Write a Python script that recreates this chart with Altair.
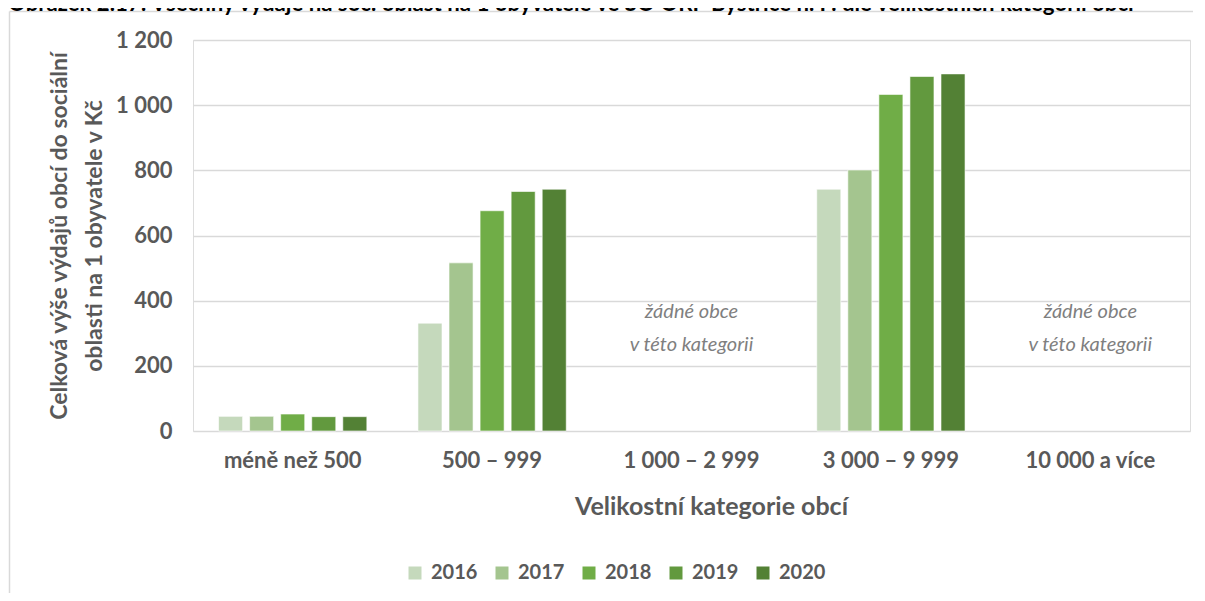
import altair as alt
import pandas as pd

categories = ["méně než 500", "500 – 999", "1 000 – 2 999", "3 000 – 9 999", "10 000 a více"]
years = ["2016", "2017", "2018", "2019", "2020"]
v2016 = [45, 331, None, 742, None]
v2017 = [45, 516, None, 801, None]
v2018 = [52, 676, None, 1033, None]
v2019 = [44, 735, None, 1088, None]
v2020 = [44, 742, None, 1096, None]
colors = ["#C5D9BC", "#A4C58F", "#70AD47", "#62993E", "#538135"]
y_ticks = [0, 200, 400, 600, 800, 1000, 1200]
empty_categories = ["1 000 – 2 999", "10 000 a více"]
empty_text = ["žádné obce", "v této kategorii"]
title_text = "Obrázek 2.17: Všechny výdaje na soc. oblast na 1 obyvatele ve SO ORP Bystřice n. P. dle velikostních kategorií obcí"

series = {"2016": v2016, "2017": v2017, "2018": v2018, "2019": v2019, "2020": v2020}
rows = []
for yr in years:
    for cat, val in zip(categories, series[yr]):
        if val is not None:
            rows.append({"category": cat, "year": yr, "value": val})
df = pd.DataFrame(rows)

FONT = "Lato"
GRAY = "#595959"

x_scale = alt.Scale(domain=categories, paddingInner=0, paddingOuter=0)

bars = alt.Chart(df).mark_bar(stroke="white", strokeWidth=0.6).encode(
    x=alt.X("category:N", scale=x_scale, sort=categories,
            axis=alt.Axis(title="Velikostní kategorie obcí", labelAngle=0, ticks=False, domain=False,
                          labelFont=FONT, labelFontWeight="bold", labelFontSize=22, labelColor=GRAY,
                          labelPadding=19, titleFont=FONT, titleFontWeight="bold", titleFontSize=25,
                          titleColor=GRAY, titlePadding=23, titleX=518, titleAlign="center")),
    xOffset=alt.XOffset("year:N", scale=alt.Scale(domain=years, paddingInner=0.226, paddingOuter=0.823)),
    y=alt.Y("value:Q", scale=alt.Scale(domain=[0, 1200], nice=False),
            axis=alt.Axis(values=y_ticks, title=["Celková výše výdajů obcí do sociální", "oblasti na 1 obyvatele v Kč"],
                          labelExpr="replace(format(datum.value, ','), ',', ' ')",
                          grid=True, gridColor="#D9D9D9", gridWidth=1.3, domain=False, ticks=False,
                          labelFont=FONT, labelFontWeight="bold", labelFontSize=22, labelColor=GRAY,
                          labelPadding=21, titleFont=FONT, titleFontWeight="bold", titleFontSize=23,
                          titleColor=GRAY, titleLineHeight=35, titlePadding=9)),
    color=alt.Color("year:N", scale=alt.Scale(domain=years, range=colors),
                    legend=alt.Legend(title=None, orient="none", direction="horizontal",
                                      legendX=212, legendY=523, padding=0,
                                      symbolType="square", symbolSize=169, symbolStrokeWidth=0,
                                      labelFont=FONT, labelFontWeight="bold", labelFontSize=20,
                                      labelColor=GRAY, labelOffset=6, columnPadding=14)),
)

anno_df = pd.DataFrame({"category": empty_categories, "label": [empty_text] * len(empty_categories)})
anno = alt.Chart(anno_df).mark_text(font=FONT, fontStyle="italic", fontSize=20, color="#7F7F7F",
                                    lineHeight=33, baseline="middle", align="center").encode(
    x=alt.X("category:N", scale=x_scale, sort=categories),
    y=alt.value(272),
    text="label",
)

one = pd.DataFrame({"k": [0]})
title = alt.Chart(one).mark_text(text=title_text, font=FONT, fontWeight="bold", fontSize=22.2,
                                 color="#000000", align="left", baseline="alphabetic").encode(
    x=alt.value(-185), y=alt.value(-29))

frame_top = alt.Chart(one).mark_rule(color="#D9D9D9", strokeWidth=1.5).encode(
    x=alt.value(-183.5), x2=alt.value(1000), y=alt.value(-28.5))
frame_left = alt.Chart(one).mark_rule(color="#D9D9D9", strokeWidth=1.5).encode(
    x=alt.value(-183.5), y=alt.value(-28.5), y2=alt.value(553))

chart = alt.layer(frame_top, frame_left, bars, anno, title).properties(
    width=997, height=391,
    autosize=alt.AutoSizeParams(type="none"),
    padding={"left": 185, "top": 32, "right": 7, "bottom": 162},
).configure_view(stroke=None).configure(background="white")

chart.save("out.html", embed_options={"renderer": "svg", "actions": False})
